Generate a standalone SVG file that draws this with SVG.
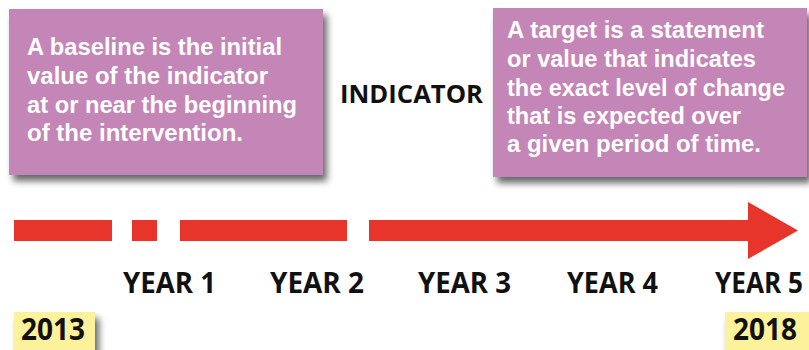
<svg xmlns="http://www.w3.org/2000/svg" width="809" height="350" viewBox="0 0 809 350">
<defs>
<filter id="sh" x="-10%" y="-10%" width="130%" height="140%">
<feGaussianBlur in="SourceAlpha" stdDeviation="3.5"/>
<feOffset dx="4" dy="6" result="b"/>
<feComponentTransfer><feFuncA type="linear" slope="0.6"/></feComponentTransfer>
<feMerge><feMergeNode/><feMergeNode in="SourceGraphic"/></feMerge>
</filter>
<style>
.box{fill:#C486B7;}
.yel{fill:#FCF29B;}
.bt{font-family:"Liberation Sans","Open Sans",sans-serif;font-weight:bold;font-size:23.5px;fill:#ffffff;}
.lbl{font-family:"Open Sans","Liberation Sans",sans-serif;font-weight:bold;font-size:28px;fill:#111111;}
.red{fill:#E8352C;}
</style>
</defs>
<rect width="809" height="350" fill="#ffffff"/>
<g id="baseline">
<rect class="box" x="9" y="9" width="314" height="166" filter="url(#sh)"/>
<text class="bt" x="27" y="55" textLength="255" lengthAdjust="spacingAndGlyphs">A baseline is the initial</text>
<text class="bt" x="27" y="84" textLength="241" lengthAdjust="spacingAndGlyphs">value of the indicator</text>
<text class="bt" x="27" y="113" textLength="270" lengthAdjust="spacingAndGlyphs">at or near the beginning</text>
<text class="bt" x="27" y="141" textLength="216" lengthAdjust="spacingAndGlyphs">of the intervention.</text>
</g>
<g id="indicator">
<text class="lbl" x="340" y="103" textLength="143" lengthAdjust="spacingAndGlyphs" style="font-size:25px">INDICATOR</text>
</g>
<g id="target">
<rect class="box" x="493" y="8" width="314" height="169" filter="url(#sh)"/>
<text class="bt" x="507" y="38" textLength="257" lengthAdjust="spacingAndGlyphs">A target is a statement</text>
<text class="bt" x="507" y="67" textLength="249" lengthAdjust="spacingAndGlyphs">or value that indicates</text>
<text class="bt" x="507" y="96" textLength="278" lengthAdjust="spacingAndGlyphs">the exact level of change</text>
<text class="bt" x="507" y="124" textLength="234" lengthAdjust="spacingAndGlyphs">that is expected over</text>
<text class="bt" x="507" y="152" textLength="254" lengthAdjust="spacingAndGlyphs">a given period of time.</text>
</g>
<g id="connectors">
<rect class="red" x="14" y="220" width="98" height="21"/>
<rect class="red" x="132" y="220" width="25" height="21"/>
<rect class="red" x="180" y="220" width="167" height="21"/>
<rect class="red" x="369" y="220" width="381" height="21"/>
<polygon class="red" points="748,202 798,230.5 748,259"/>
</g>
<g id="years">
<text class="lbl" x="123" y="293" textLength="93" lengthAdjust="spacingAndGlyphs">YEAR 1</text>
<text class="lbl" x="270" y="293" textLength="94" lengthAdjust="spacingAndGlyphs">YEAR 2</text>
<text class="lbl" x="418" y="293" textLength="93" lengthAdjust="spacingAndGlyphs">YEAR 3</text>
<text class="lbl" x="567" y="293" textLength="91" lengthAdjust="spacingAndGlyphs">YEAR 4</text>
<text class="lbl" x="715" y="293" textLength="88" lengthAdjust="spacingAndGlyphs">YEAR 5</text>
</g>
<g id="y2013">
<rect class="yel" x="14" y="312" width="81" height="45" filter="url(#sh)"/>
<text class="lbl" x="21" y="340" textLength="64" lengthAdjust="spacingAndGlyphs" style="font-size:30px">2013</text>
</g>
<g id="y2018">
<rect class="yel" x="725" y="312" width="90" height="45" filter="url(#sh)"/>
<text class="lbl" x="733" y="340" textLength="64" lengthAdjust="spacingAndGlyphs" style="font-size:30px">2018</text>
</g>
</svg>
